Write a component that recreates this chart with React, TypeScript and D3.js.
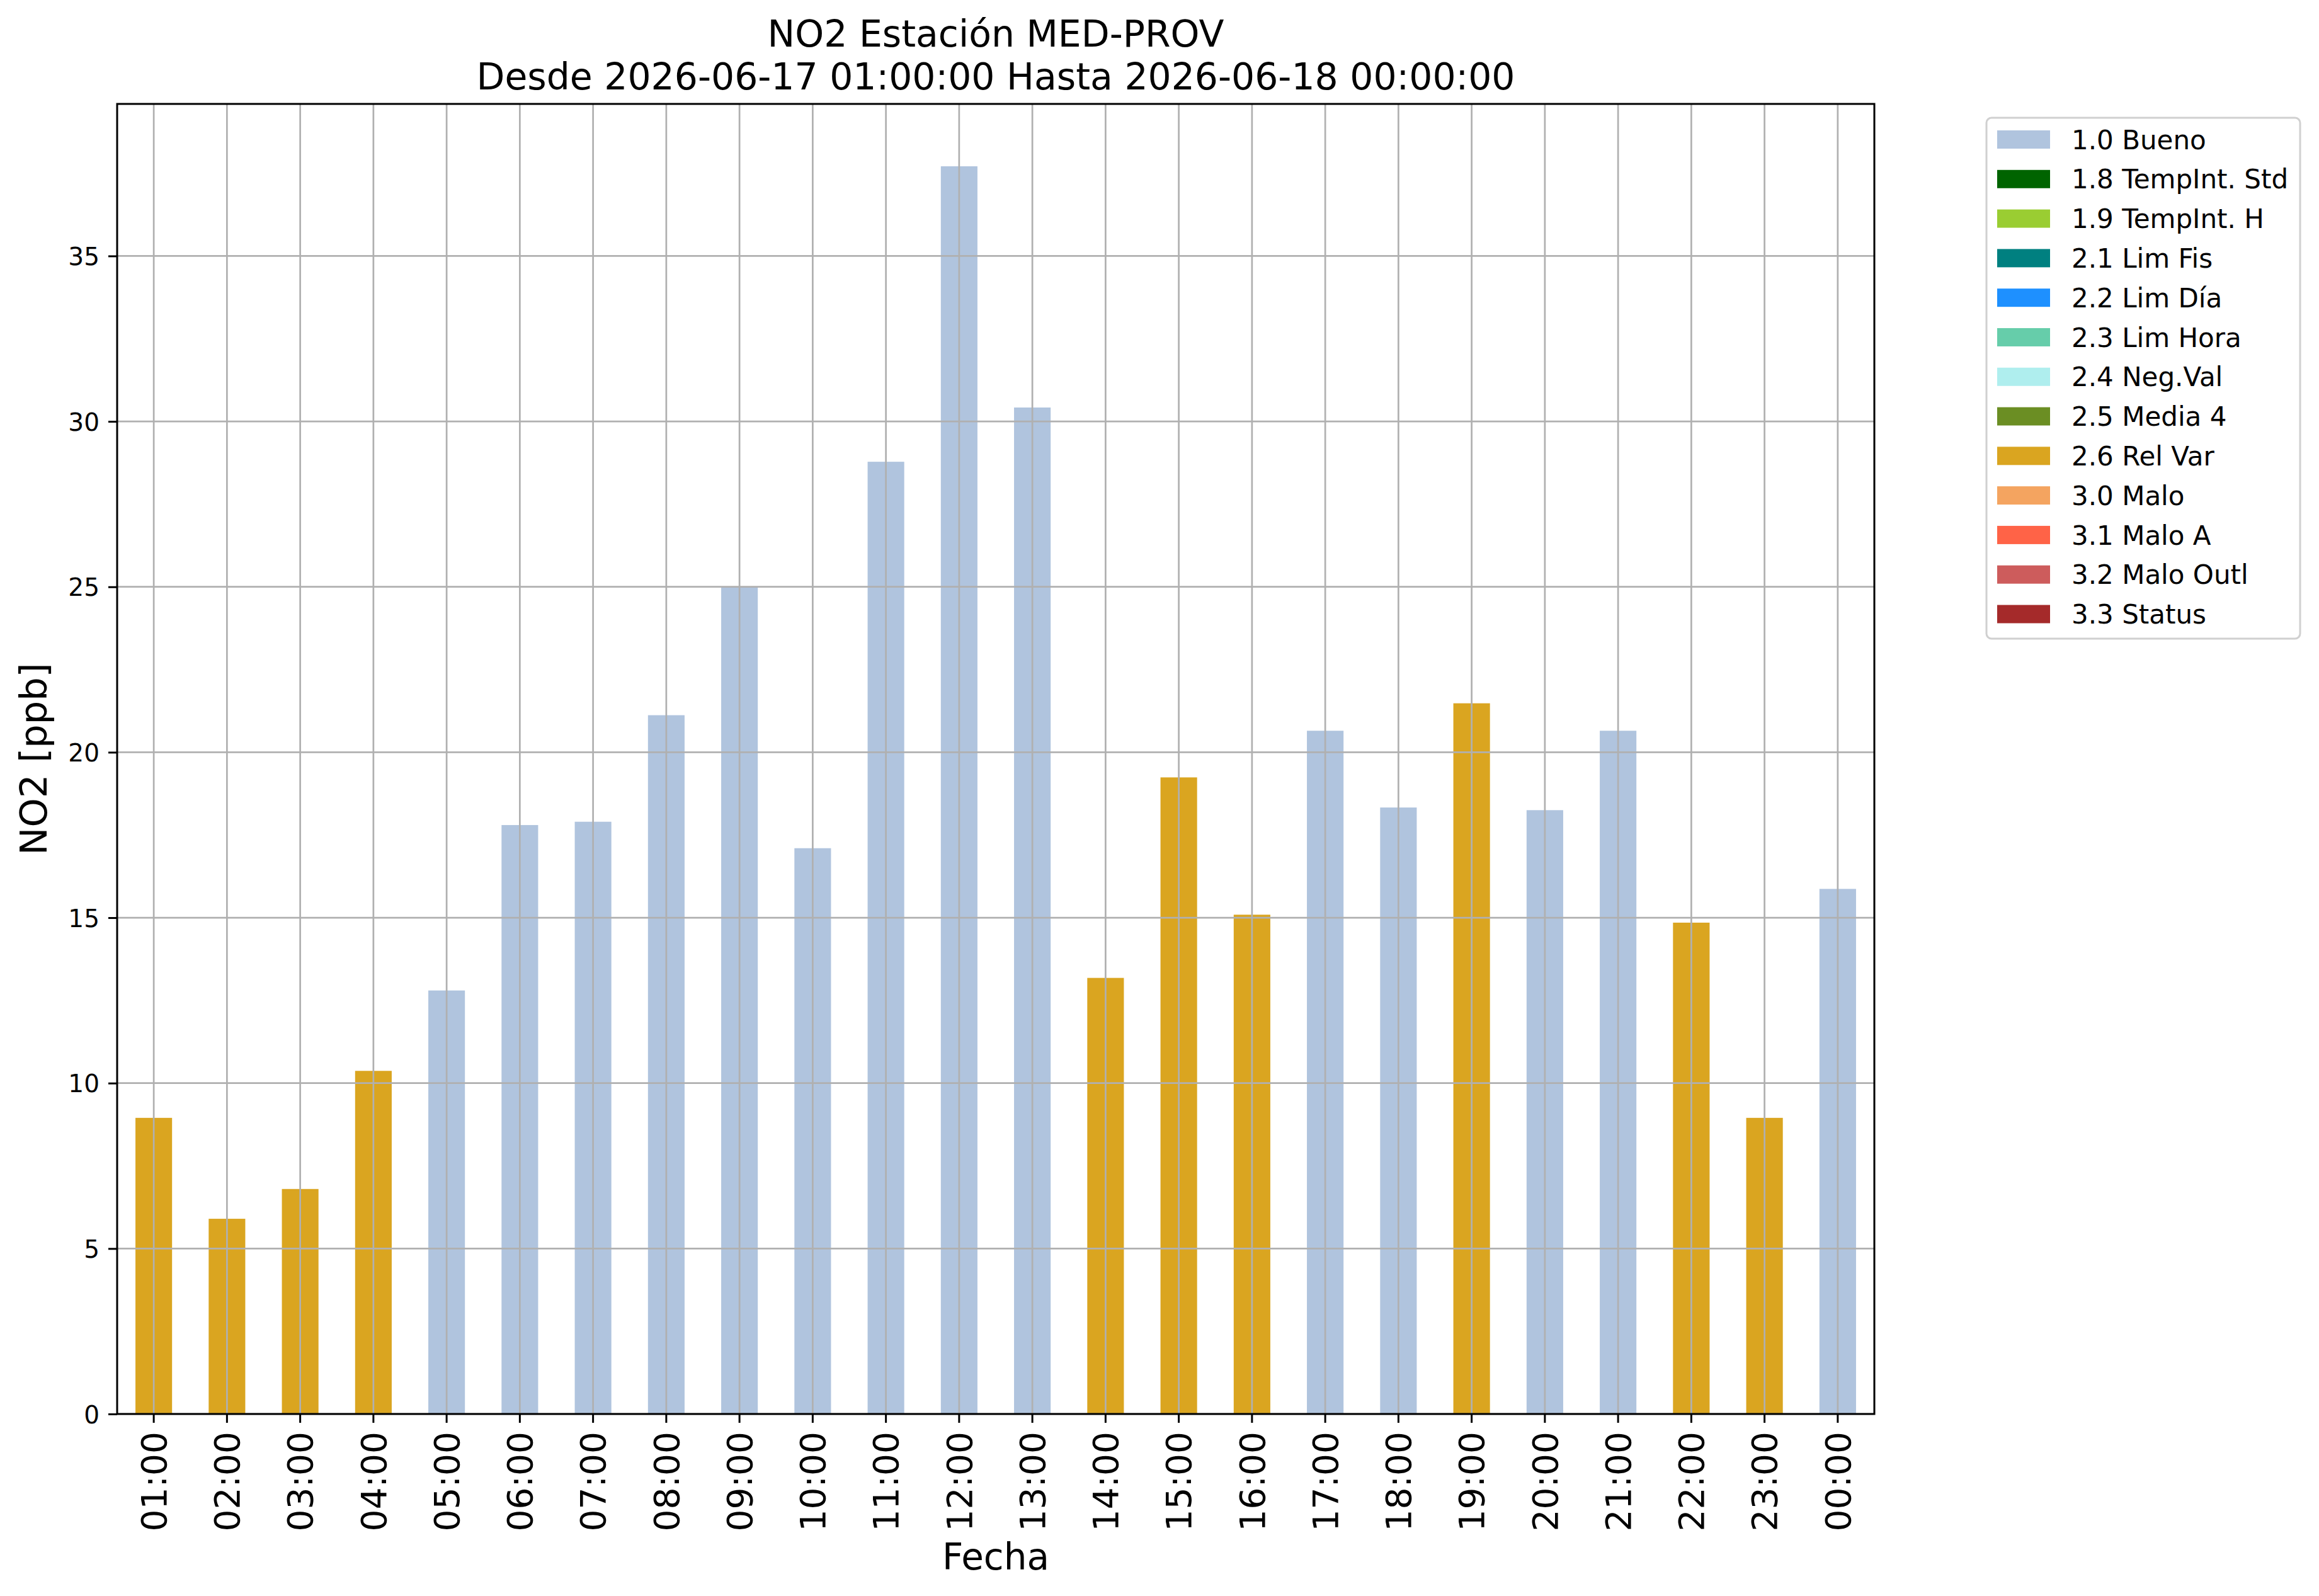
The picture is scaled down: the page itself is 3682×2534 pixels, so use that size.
import { useRef, useEffect, useMemo } from "react";
import * as d3 from "d3";

const hours = [
  "01:00", "02:00", "03:00", "04:00", "05:00", "06:00", "07:00", "08:00",
  "09:00", "10:00", "11:00", "12:00", "13:00", "14:00", "15:00", "16:00",
  "17:00", "18:00", "19:00", "20:00", "21:00", "22:00", "23:00", "00:00",
];
const no2Values = [
  8.95, 5.9, 6.8, 10.37, 12.8, 17.8, 17.9, 21.12, 25.0, 17.1, 28.78, 37.71,
  30.42, 13.18, 19.24, 15.09, 20.65, 18.33, 21.48, 18.25, 20.65, 14.85, 8.95, 15.87,
];
// quality flag per hour (one of legendLabels)
const hourFlags = [
  "2.6 Rel Var", "2.6 Rel Var", "2.6 Rel Var", "2.6 Rel Var",
  "1.0 Bueno", "1.0 Bueno", "1.0 Bueno", "1.0 Bueno", "1.0 Bueno",
  "1.0 Bueno", "1.0 Bueno", "1.0 Bueno", "1.0 Bueno",
  "2.6 Rel Var", "2.6 Rel Var", "2.6 Rel Var",
  "1.0 Bueno", "1.0 Bueno", "2.6 Rel Var", "1.0 Bueno", "1.0 Bueno",
  "2.6 Rel Var", "2.6 Rel Var", "1.0 Bueno",
];
const legendLabels = [
  "1.0 Bueno", "1.8 TempInt. Std", "1.9 TempInt. H", "2.1 Lim Fis",
  "2.2 Lim Día", "2.3 Lim Hora", "2.4 Neg.Val", "2.5 Media 4",
  "2.6 Rel Var", "3.0 Malo", "3.1 Malo A", "3.2 Malo Outl", "3.3 Status",
];
const legendColors = [
  "#b0c4de", "#006400", "#9acd32", "#008080", "#1e90ff", "#66cdaa",
  "#afeeee", "#6b8e23", "#daa520", "#f4a460", "#ff6347", "#cd5c5c", "#a52a2a",
];
const yTicks = [0, 5, 10, 15, 20, 25, 30, 35];

const W = 3682;
const H = 2534;
const PLOT = { left: 186, right: 2976, top: 165, bottom: 2245 };
const FONT = "DejaVu Sans, Verdana, sans-serif";
const GRID = "#b0b0b0";

export default function App() {
  const xAxisRef = useRef<SVGGElement>(null);
  const yAxisRef = useRef<SVGGElement>(null);

  const data = useMemo(
    () => hours.map((h, i) => ({ hour: h, value: no2Values[i], flag: hourFlags[i] })),
    []
  );

  const color = useMemo(
    () => d3.scaleOrdinal<string, string>().domain(legendLabels).range(legendColors),
    []
  );

  const xScale = useMemo(
    () =>
      d3
        .scaleBand()
        .domain(hours)
        .range([PLOT.left, PLOT.right])
        .paddingInner(0.5)
        .paddingOuter(0.25),
    []
  );

  const yScale = useMemo(
    () =>
      d3
        .scaleLinear()
        .domain([0, (d3.max(no2Values) ?? 0) * 1.05])
        .range([PLOT.bottom, PLOT.top]),
    []
  );

  const legendY = d3
    .scalePoint()
    .domain(legendLabels)
    .range([221.5, 975]);

  useEffect(() => {
    if (!xAxisRef.current) return;
    d3.select(xAxisRef.current)
      .call(d3.axisBottom(xScale).tickSize(14).tickPadding(14))
      .call((g) => g.select(".domain").remove())
      .call((g) => g.selectAll(".tick line").attr("stroke", "#000").attr("stroke-width", 3))
      .call((g) =>
        g
          .selectAll<SVGTextElement, unknown>(".tick text")
          .attr("transform", "rotate(-90)")
          .attr("x", -28)
          .attr("y", 0)
          .attr("dy", "0.36em")
          .attr("text-anchor", "end")
          .attr("fill", "#000")
          .attr("font-size", 55)
          .attr("font-family", FONT)
      );
  }, [xScale]);

  useEffect(() => {
    if (!yAxisRef.current) return;
    d3.select(yAxisRef.current)
      .call(d3.axisLeft(yScale).tickValues(yTicks).tickSize(14).tickPadding(14))
      .call((g) => g.select(".domain").remove())
      .call((g) => g.selectAll(".tick line").attr("stroke", "#000").attr("stroke-width", 3))
      .call((g) =>
        g
          .selectAll<SVGTextElement, unknown>(".tick text")
          .attr("dy", "0.36em")
          .attr("fill", "#000")
          .attr("font-size", 39)
          .attr("font-family", FONT)
      );
  }, [yScale]);

  const cx = (PLOT.left + PLOT.right) / 2;
  const cy = (PLOT.top + PLOT.bottom) / 2;

  return (
    <div style={{ position: "absolute", left: 0, top: 0 }}>
      <svg width={W} height={H} style={{ display: "block", background: "#fff" }} fontFamily={FONT}>
        <rect x={0} y={0} width={W} height={H} fill="#fff" />

        {/* Bars */}
        {data.map((d) => (
          <rect
            key={d.hour}
            x={xScale(d.hour) ?? 0}
            y={yScale(d.value)}
            width={xScale.bandwidth()}
            height={PLOT.bottom - yScale(d.value)}
            fill={color(d.flag)}
          />
        ))}

        {/* Grid on top of bars */}
        {hours.map((h) => {
          const x = (xScale(h) ?? 0) + xScale.bandwidth() / 2;
          return (
            <line key={h} x1={x} x2={x} y1={PLOT.top} y2={PLOT.bottom} stroke={GRID} strokeWidth={2.7} />
          );
        })}
        {yTicks.map((t) => (
          <line
            key={t}
            x1={PLOT.left}
            x2={PLOT.right}
            y1={yScale(t)}
            y2={yScale(t)}
            stroke={GRID}
            strokeWidth={2.7}
          />
        ))}

        {/* Spines */}
        <rect
          x={PLOT.left}
          y={PLOT.top}
          width={PLOT.right - PLOT.left}
          height={PLOT.bottom - PLOT.top}
          fill="none"
          stroke="#000"
          strokeWidth={3}
        />

        <g ref={xAxisRef} transform={`translate(0,${PLOT.bottom})`} />
        <g ref={yAxisRef} transform={`translate(${PLOT.left},0)`} />

        {/* Titles */}
        <text x={cx} y={74} textAnchor="middle" fontSize={58.4}>
          NO2 Estación MED-PROV
        </text>
        <text x={cx} y={142} textAnchor="middle" fontSize={58.4}>
          Desde 2026-06-17 01:00:00 Hasta 2026-06-18 00:00:00
        </text>
        <text x={cx} y={2492} textAnchor="middle" fontSize={58}>
          Fecha
        </text>
        <text transform={`translate(74,${cy}) rotate(-90)`} textAnchor="middle" fontSize={59}>
          NO2 [ppb]
        </text>

        {/* Legend */}
        <rect
          x={3154}
          y={187}
          width={498}
          height={827}
          rx={8}
          fill="#fff"
          fillOpacity={0.8}
          stroke="#d0d0d0"
          strokeWidth={3}
        />
        {legendLabels.map((label) => {
          const y = legendY(label) ?? 0;
          return (
            <g key={label}>
              <rect x={3171} y={y - 14.5} width={84} height={29} fill={color(label)} />
              <text x={3289} y={y} dy="0.36em" fontSize={42}>
                {label}
              </text>
            </g>
          );
        })}
      </svg>
    </div>
  );
}
